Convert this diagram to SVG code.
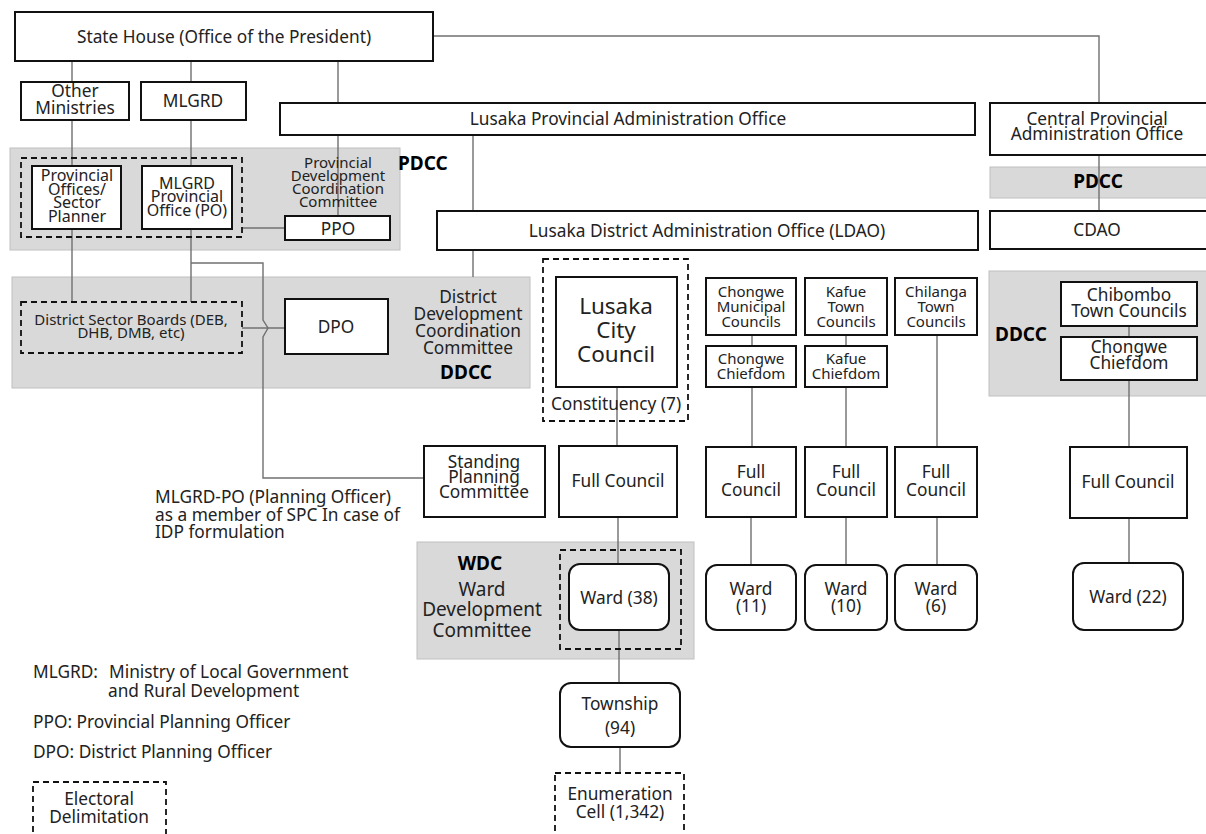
<svg xmlns="http://www.w3.org/2000/svg" width="1206" height="834" viewBox="0 0 1206 834">
<style>
text{font-family:"Noto Sans","Open Sans","DejaVu Sans",sans-serif;fill:#222;}
.c{text-anchor:middle;}
.f17{font-size:17.3px;}
.f16{font-size:16px;}
.f15{font-size:15px;}
.f22{font-size:22.5px;}
.f19{font-size:19px;}
.b{font-weight:bold;font-size:19px;fill:#000;}
.box{fill:#fff;stroke:#111;stroke-width:2;}
.dash{fill:none;stroke:#111;stroke-width:1.8;stroke-dasharray:6 4;}
.dashw{fill:#fff;stroke:#111;stroke-width:1.8;stroke-dasharray:6 4;}
.gray{fill:#d9d9d9;stroke:#c0c0c0;stroke-width:1;}
.ln{fill:none;stroke:#707070;stroke-width:1.4;}
</style>
<rect width="1206" height="834" fill="#fff"/>

<!-- shaded committee areas -->
<g id="pdcc-lusaka"><rect class="gray" x="10" y="148" width="390" height="102"/></g>
<g id="ddcc-lusaka"><rect class="gray" x="12" y="277" width="518" height="111"/></g>
<g id="pdcc-central"><rect class="gray" x="990" y="167" width="218" height="31"/></g>
<g id="ddcc-central"><rect class="gray" x="989" y="271" width="219" height="125"/></g>
<g id="wdc"><rect class="gray" x="417" y="542" width="277" height="117"/></g>

<g id="connectors">
<path class="ln" d="M433,36 H1099 V103"/>
<path class="ln" d="M72,61 V166 M72,229 V302"/>
<path class="ln" d="M191,61 V166 M191,229 V302"/>
<path class="ln" d="M338,61 V216"/>
<path class="ln" d="M242,228 H285"/>
<path class="ln" d="M473,135 V211 M473,250 V277"/>
<path class="ln" d="M1099,155 V211"/>
<path class="ln" d="M242,328 H285"/>
<path class="ln" d="M191,263 H263 V320 L268,328 L263,337 V478 H424"/>
<path class="ln" d="M617,387 V446 M618,517 V564 M619,630 V683 M620,747 V773"/>
<path class="ln" d="M752,335 V346 M752,387 V447 M751,517 V565"/>
<path class="ln" d="M846,335 V346 M846,387 V447 M846,517 V565"/>
<path class="ln" d="M937,335 V447 M937,517 V565"/>
<path class="ln" d="M1129,326 V337 M1129,380 V447 M1129,518 V563"/>
</g>

<g id="state-house"><rect class="box" x="15" y="12" width="418" height="49"/><text class="c f17" x="224" y="43">State House (Office of the President)</text></g>
<g id="other-ministries"><rect class="box" x="21" y="82" width="108" height="38"/><text class="c f17" x="75" y="97">Other</text><text class="c f17" x="75" y="114">Ministries</text></g>
<g id="mlgrd"><rect class="box" x="141" y="82" width="105" height="38"/><text class="c f17" x="193" y="107">MLGRD</text></g>
<g id="lpao"><rect class="box" x="280" y="103" width="695" height="32"/><text class="c f17" x="628" y="125">Lusaka Provincial Administration Office</text></g>

<g id="pdcc-group">
<rect class="dash" x="21" y="158" width="221" height="79"/>
<text class="c f15" x="338" y="168">Provincial</text>
<text class="c f15" x="338" y="181">Development</text>
<text class="c f15" x="338" y="194">Coordination</text>
<text class="c f15" x="338" y="207">Committee</text>
<text class="b" x="398" y="170">PDCC</text>
</g>
<g id="provincial-offices"><rect class="box" x="32" y="166" width="89" height="63"/>
<text class="c f16" x="77" y="181">Provincial</text><text class="c f16" x="77" y="195">Offices/</text><text class="c f16" x="77" y="208">Sector</text><text class="c f16" x="77" y="222">Planner</text></g>
<g id="mlgrd-po"><rect class="box" x="142" y="166" width="90" height="63"/>
<text class="c f16" x="187" y="189">MLGRD</text><text class="c f16" x="187" y="202">Provincial</text><text class="c f16" x="187" y="216">Office (PO)</text></g>
<g id="ppo"><rect class="box" x="285" y="216" width="105" height="24"/><text class="c f17" x="338" y="235">PPO</text></g>

<g id="ldao"><rect class="box" x="437" y="211" width="541" height="39"/><text class="c f17" x="707" y="237">Lusaka District Administration Office (LDAO)</text></g>
<g id="cpao"><rect class="box" x="990" y="103" width="218" height="52"/><text class="c f17" x="1097" y="125">Central Provincial</text><text class="c f17" x="1097" y="140">Administration Office</text></g>
<g id="pdcc-central-label"><text class="c b" x="1098" y="188">PDCC</text></g>
<g id="cdao"><rect class="box" x="990" y="211" width="218" height="38"/><text class="c f17" x="1097" y="236">CDAO</text></g>

<g id="district-sector-boards"><rect class="dash" x="21" y="302" width="221" height="51"/>
<text class="c f15" x="131" y="325">District Sector Boards (DEB,</text><text class="c f15" x="131" y="338">DHB, DMB, etc)</text></g>
<g id="dpo"><rect class="box" x="285" y="299" width="103" height="55"/><text class="c f17" x="336" y="333">DPO</text></g>
<g id="ddcc-label"><text class="c f17" x="468" y="303">District</text><text class="c f17" x="468" y="320">Development</text><text class="c f17" x="468" y="337">Coordination</text><text class="c f17" x="468" y="354">Committee</text><text class="c b" x="466" y="379">DDCC</text></g>

<g id="lusaka-city-council"><rect class="dash" x="543" y="259" width="145" height="162"/><rect class="box" x="556" y="277" width="121" height="110"/>
<text class="c f22" x="616" y="314">Lusaka</text><text class="c f22" x="616" y="338">City</text><text class="c f22" x="616" y="362">Council</text>
<text class="c f17" x="616" y="410">Constituency (7)</text></g>

<g id="chongwe-municipal"><rect class="box" x="706" y="278" width="90" height="57"/><text class="c f15" x="751" y="297">Chongwe</text><text class="c f15" x="751" y="312">Municipal</text><text class="c f15" x="751" y="327">Councils</text></g>
<g id="chongwe-chiefdom"><rect class="box" x="706" y="346" width="90" height="41"/><text class="c f15" x="751" y="364">Chongwe</text><text class="c f15" x="751" y="379">Chiefdom</text></g>
<g id="kafue-town"><rect class="box" x="805" y="278" width="82" height="57"/><text class="c f15" x="846" y="297">Kafue</text><text class="c f15" x="846" y="312">Town</text><text class="c f15" x="846" y="327">Councils</text></g>
<g id="kafue-chiefdom"><rect class="box" x="805" y="346" width="82" height="41"/><text class="c f15" x="846" y="364">Kafue</text><text class="c f15" x="846" y="379">Chiefdom</text></g>
<g id="chilanga-town"><rect class="box" x="895" y="278" width="82" height="57"/><text class="c f15" x="936" y="297">Chilanga</text><text class="c f15" x="936" y="312">Town</text><text class="c f15" x="936" y="327">Councils</text></g>

<g id="ddcc-central-label"><text class="b" x="995" y="341">DDCC</text></g>
<g id="chibombo-town"><rect class="box" x="1061" y="282" width="136" height="44"/><text class="c f17" x="1129" y="301">Chibombo</text><text class="c f17" x="1129" y="317">Town Councils</text></g>
<g id="chongwe-chiefdom-central"><rect class="box" x="1061" y="337" width="136" height="43"/><text class="c f17" x="1129" y="353">Chongwe</text><text class="c f17" x="1129" y="369">Chiefdom</text></g>

<g id="standing-planning"><rect class="box" x="424" y="446" width="121" height="71"/><text class="c f17" x="484" y="468">Standing</text><text class="c f17" x="484" y="483">Planning</text><text class="c f17" x="484" y="498">Committee</text></g>
<g id="full-council-lusaka"><rect class="box" x="559" y="446" width="118" height="71"/><text class="c f17" x="618" y="487">Full Council</text></g>
<g id="full-council-chongwe"><rect class="box" x="706" y="447" width="90" height="70"/><text class="c f17" x="751" y="478">Full</text><text class="c f17" x="751" y="496">Council</text></g>
<g id="full-council-kafue"><rect class="box" x="805" y="447" width="82" height="70"/><text class="c f17" x="846" y="478">Full</text><text class="c f17" x="846" y="496">Council</text></g>
<g id="full-council-chilanga"><rect class="box" x="895" y="447" width="82" height="70"/><text class="c f17" x="936" y="478">Full</text><text class="c f17" x="936" y="496">Council</text></g>
<g id="full-council-central"><rect class="box" x="1070" y="447" width="117" height="71"/><text class="c f17" x="1128" y="488">Full Council</text></g>

<g id="spc-note"><text class="f17" x="155" y="503">MLGRD-PO (Planning Officer)</text><text class="f17" x="155" y="521">as a member of SPC In case of</text><text class="f17" x="155" y="538">IDP formulation</text></g>

<g id="wdc-label"><text class="c b" x="480" y="570">WDC</text><text class="c f19" x="482" y="596">Ward</text><text class="c f19" x="482" y="616">Development</text><text class="c f19" x="482" y="637">Committee</text></g>
<g id="ward-38"><rect class="dash" x="560" y="550" width="121" height="99"/><rect class="box" x="569" y="564" width="100" height="66" rx="11"/><text class="c f17" x="619" y="604">Ward (38)</text></g>
<g id="ward-11"><rect class="box" x="706" y="565" width="90" height="65" rx="11"/><text class="c f17" x="751" y="595">Ward</text><text class="c f17" x="751" y="612">(11)</text></g>
<g id="ward-10"><rect class="box" x="805" y="565" width="82" height="65" rx="11"/><text class="c f17" x="846" y="595">Ward</text><text class="c f17" x="846" y="612">(10)</text></g>
<g id="ward-6"><rect class="box" x="895" y="565" width="82" height="65" rx="11"/><text class="c f17" x="936" y="595">Ward</text><text class="c f17" x="936" y="612">(6)</text></g>
<g id="ward-22"><rect class="box" x="1073" y="563" width="110" height="67" rx="11"/><text class="c f17" x="1128" y="603">Ward (22)</text></g>

<g id="township"><rect class="box" x="560" y="683" width="120" height="64" rx="11"/><text class="c f17" x="620" y="710">Township</text><text class="c f17" x="620" y="734">(94)</text></g>
<g id="enumeration"><rect class="dashw" x="555" y="773" width="129" height="70"/><text class="c f17" x="620" y="800">Enumeration</text><text class="c f17" x="620" y="818">Cell (1,342)</text></g>

<g id="legend">
<text class="f17" x="33" y="678">MLGRD:</text><text class="f17" x="109" y="678">Ministry of Local Government</text>
<text class="f17" x="108" y="697">and Rural Development</text>
<text class="f17" x="33" y="728">PPO: Provincial Planning Officer</text>
<text class="f17" x="33" y="758">DPO: District Planning Officer</text>
<rect class="dash" x="33" y="782" width="133" height="62"/>
<text class="c f17" x="99" y="805">Electoral</text><text class="c f17" x="99" y="823">Delimitation</text>
</g>
</svg>
